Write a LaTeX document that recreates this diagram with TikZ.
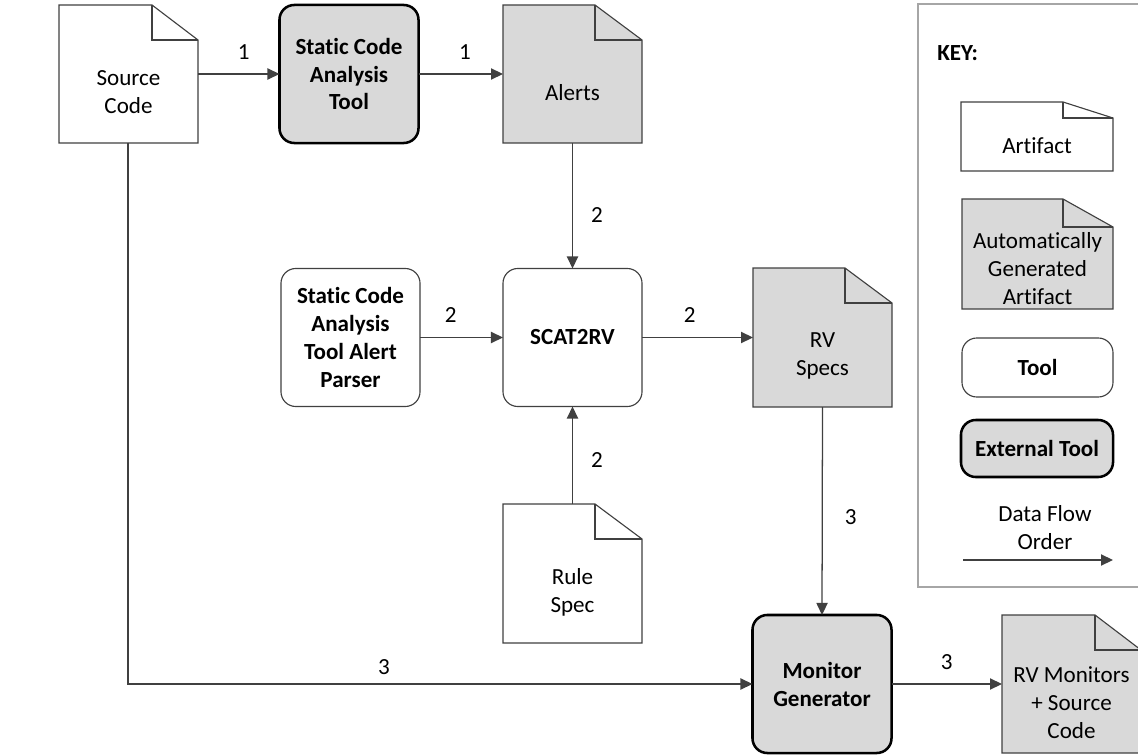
\documentclass[tikz,border=0pt]{standalone}
\usepackage{fontspec}
\setmainfont{Carlito}[Ligatures={NoCommon}]
\usepackage{xcolor}
\usetikzlibrary{arrows.meta}

\definecolor{DocGray}{HTML}{D9D9D9}
\definecolor{LineGray}{HTML}{404040}
\definecolor{KeyGray}{HTML}{A6A6A6}

% artifact: name, left, top, right, bottom, fold x, fold y, fill, text
\newcommand{\artifact}[9]{%
    \draw[docline, fill=#8] (#2,#3) -- ({#4-#6},#3) -- (#4,{#3+#7}) -- (#4,#5) -- (#2,#5) -- cycle;
    \draw[docline] ({#4-#6},#3) |- (#4,{#3+#7});
    \node[docbox, minimum width={(#4-#2)*0.025cm}, minimum height={(#5-#3)*0.025cm}] (#1) at ({(#2+#4)/2},{(#3+#5)/2}) {};
    \node[txt] at ([yshift={-(#7/2+1)*0.025cm}]#1.center) {#9};
}

\begin{document}
\begin{tikzpicture}[x=0.025cm, y=-0.025cm,
    txt/.style={font=\fontsize{16.4}{19.9}\selectfont, align=center, inner sep=0pt},
    lbl/.style={font=\fontsize{16.4}{19.9}\selectfont, inner sep=0pt},
    docline/.style={draw=LineGray, line width=0.8pt},
    docbox/.style={draw=none, inner sep=0pt, outer sep=0pt},
    tool/.style={txt, draw=LineGray, line width=0.8pt, fill=white, rounded corners=0.37cm, outer sep=0pt,
        minimum width=3.475cm, minimum height=3.45cm, font=\fontsize{16.4}{19.9}\selectfont\bfseries},
    exttool/.style={tool, draw=black, line width=1.8pt, fill=DocGray},
    flow/.style={draw=LineGray, line width=0.9pt, -{Triangle[length=0.3cm, width=0.28cm]}}]
    \useasboundingbox (0,0) rectangle (1138,755);
    % Key frame
    \draw[KeyGray, line width=1.2pt] (1150,4) -- (918,4) -- (918,587) -- (1150,587);
    \node[txt, anchor=west, font=\fontsize{16.4}{19.9}\selectfont\bfseries] (key) at (937,53) {KEY:};
    % Artifacts
    \artifact{src}{59}{5}{198}{143}{46}{35}{white}{Source\\Code}
    \artifact{alerts}{503}{5}{642}{143}{47}{35}{DocGray}{Alerts}
    \artifact{rvspecs}{753}{268}{892}{407}{47}{35}{DocGray}{RV\\Specs}
    \artifact{rulespec}{503}{504}{642}{643}{47}{35}{white}{Rule\\Spec}
    \artifact{rvmon}{1002}{615}{1141}{753}{46}{35}{DocGray}{RV Monitors\\+ Source\\Code}
    \artifact{keyart}{961}{102}{1113}{171}{50}{16}{white}{Artifact}
    \artifact{keyauto}{962}{199}{1113}{309}{50}{28}{DocGray}{Automatically\\Generated\\Artifact}
    % Tools
    \node[exttool] (sca) at (349,74) {Static Code\\Analysis\\Tool};
    \node[tool] (parser) at (350.5,337.5) {Static Code\\Analysis\\Tool Alert\\Parser};
    \node[tool] (scat) at (572.5,337.5) {SCAT2RV};
    \node[exttool] (mongen) at (822,684) {Monitor\\Generator};
    \node[tool, minimum width=3.775cm, minimum height=1.475cm] (keytool) at (1037.5,367.5) {Tool};
    \node[exttool, minimum width=3.8cm, minimum height=1.425cm] (keyext) at (1037,448.5) {External Tool};
    % Data flow key
    \node[txt] (keyflow) at (1045,528) {Data Flow\\Order};
    \coordinate (flowA) at (963,560);
    \coordinate (flowB) at (1113,560);
    \draw[flow] (flowA) -- (flowB);
    % Step 1
    \draw[flow] (src.east) -- node[lbl, pos=0.56, above=0.35cm]{1} (sca.west);
    \draw[flow] (sca.east) -- node[lbl, pos=0.55, above=0.35cm]{1} (alerts.west);
    % Step 2
    \draw[flow] (alerts.south) -- node[lbl, pos=0.576, right=0.45cm]{2} (scat.north);
    \draw[flow] (parser.east) -- node[lbl, pos=0.37, above=0.35cm]{2} (scat.west);
    \draw[flow] (rulespec.north) -- node[lbl, pos=0.45, right=0.45cm]{2} (scat.south);
    \draw[flow] (scat.east) -- node[lbl, pos=0.43, above=0.35cm]{2} (rvspecs.west);
    % Step 3
    \draw[flow] (src.south -| 128,0) |- node[lbl, pos=0.705, above=0.225cm]{3} (mongen.west);
    \draw[flow] (rvspecs.south) -- node[lbl, pos=0.53, right=0.55cm]{3} (mongen.north);
    \draw[flow] (mongen.east) -- node[lbl, pos=0.5, above=0.35cm]{3} (rvmon.west);
\end{tikzpicture}
\end{document}
